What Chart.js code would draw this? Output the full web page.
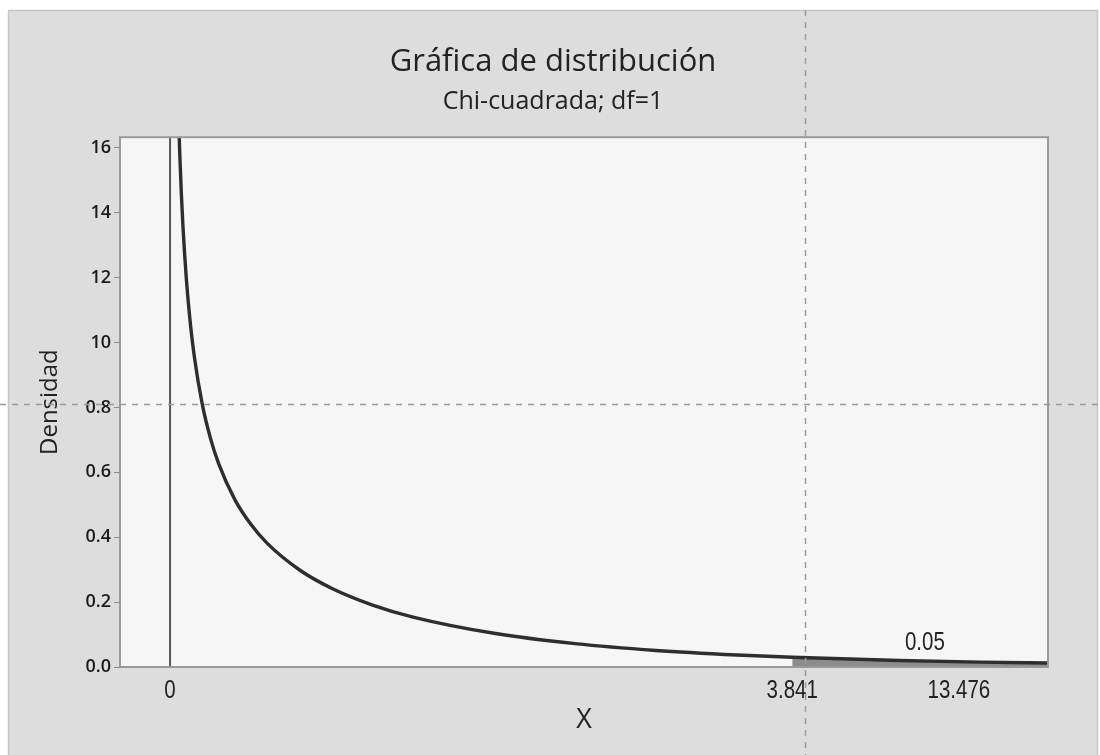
<!DOCTYPE html>
<html>
<head>
<meta charset="utf-8">
<script src="https://cdn.jsdelivr.net/npm/chart.js@4.4.0/dist/chart.umd.min.js"></script>
<style>
  html, body { margin: 0; padding: 0; background: #fff; }
  #wrap { width: 1100px; height: 755px; }
</style>
</head>
<body>
<div id="wrap"><canvas id="chart" width="1100" height="755"></canvas></div>
<script>
// === Data ===
const densX = [0.05, 0.06, 0.07, 0.08, 0.1, 0.12, 0.15, 0.2, 0.25, 0.3, 0.4, 0.5, 0.6, 0.8,
               1.0, 1.25, 1.5, 2.0, 2.5, 3.0, 3.5, 3.841, 4.5, 5.0, 5.45];
const densY = [1.740, 1.581, 1.456, 1.355, 1.200, 1.085, 0.956, 0.807, 0.704, 0.627, 0.516, 0.439, 0.381, 0.299,
               0.242, 0.191, 0.154, 0.104, 0.072, 0.051, 0.037, 0.030, 0.020, 0.015, 0.012];
const tailStart = 3.841;          // shaded right tail
const areaLabel = "0.05";
const areaLabelAt = [4.66, 0.075];

const xMin = -0.309, xMax = 5.42;
const yMin = 0, yMax = 1.633;
const xTickValues = [0, 3.841, 4.87];
const xTickLabels = ["0", "3.841", "13.476"];
const yTickValues = [0, 0.2, 0.4, 0.6, 0.8, 1.0, 1.2, 1.4, 1.6];
const yTickLabels = ["0.0", "0.2", "0.4", "0.6", "0.8", "10", "12", "14", "16"];

// dashed cursor cross-hair seen on the screenshot
const crossX = 3.92;
const crossY = 0.81;

const curvePts = densX.map((x, i) => ({ x, y: densY[i] }));
const tailPts = curvePts.filter(p => p.x >= tailStart);
const zeroLine = [{ x: 0, y: yMin }, { x: 0, y: yMax }];

const FONT = "'Open Sans', 'Noto Sans', sans-serif";
const NARROW = "25px 'Liberation Sans', Arial, sans-serif";

// narrow-looking text: plain font squeezed horizontally
function narrowText(ctx, text, x, y) {
  ctx.save();
  ctx.translate(x, y);
  ctx.scale(0.82, 1);
  ctx.fillText(text, 0, 0);
  ctx.restore();
}

const panelPlugin = {
  id: "panel",
  beforeDraw(chart) {
    const { ctx, chartArea: a, width, height } = chart;
    ctx.save();
    ctx.fillStyle = "#fff";
    ctx.fillRect(0, 0, width, height);
    ctx.fillStyle = "#dddddd";
    ctx.fillRect(8, 10, width - 10, height - 10);
    ctx.strokeStyle = "#c6c6c6";
    ctx.lineWidth = 1.5;
    ctx.strokeRect(8.5, 10.5, width - 11, height);
    ctx.fillStyle = "#f6f6f6";
    ctx.fillRect(a.left, a.top, a.width, a.height);
    ctx.restore();
  },
  afterDatasetsDraw(chart) {
    const { ctx, chartArea: a } = chart;
    const xs = chart.scales.x, ys = chart.scales.y;
    ctx.save();
    ctx.fillStyle = "#222";
    ctx.font = NARROW;
    ctx.textAlign = "center";
    ctx.textBaseline = "middle";
    narrowText(ctx, areaLabel, xs.getPixelForValue(areaLabelAt[0]), ys.getPixelForValue(areaLabelAt[1]));
    // x tick labels
    xTickValues.forEach((v, i) => {
      narrowText(ctx, xTickLabels[i], xs.getPixelForValue(v), a.bottom + 24);
    });
    ctx.restore();
  },
  afterDraw(chart) {
    const { ctx, chartArea: a, width, height } = chart;
    const xs = chart.scales.x, ys = chart.scales.y;
    ctx.save();
    // plot frame
    ctx.strokeStyle = "#999";
    ctx.lineWidth = 2;
    ctx.strokeRect(a.left, a.top, a.width, a.height);
    // cross-hair
    ctx.strokeStyle = "#9a9a9a";
    ctx.lineWidth = 1.5;
    ctx.setLineDash([6, 6]);
    const px = Math.round(xs.getPixelForValue(crossX)) + 0.5;
    const py = Math.round(ys.getPixelForValue(crossY)) + 0.5;
    ctx.beginPath();
    ctx.moveTo(px, 10); ctx.lineTo(px, height);
    ctx.moveTo(0, py); ctx.lineTo(width, py);
    ctx.stroke();
    ctx.restore();
  }
};

new Chart(document.getElementById("chart"), {
  type: "line",
  data: {
    datasets: [
      { data: curvePts, borderColor: "#2e2e2e", borderWidth: 3.4, pointRadius: 0, fill: false,
        cubicInterpolationMode: "monotone" },
      { data: tailPts, borderWidth: 0, borderColor: "rgba(0,0,0,0)", backgroundColor: "#8c8c8c",
        pointRadius: 0, fill: "origin", cubicInterpolationMode: "monotone" },
      { data: zeroLine, borderColor: "#555", borderWidth: 2, pointRadius: 0, fill: false }
    ]
  },
  options: {
    responsive: false,
    animation: false,
    events: [],
    layout: { padding: { left: 8, right: 2, top: 10, bottom: 0 } },
    plugins: {
      legend: { display: false },
      tooltip: { enabled: false },
      title: {
        display: true, text: "Gráfica de distribución", color: "#222",
        font: { family: FONT, size: 31, weight: "normal" },
        padding: { top: 34, bottom: 6 }
      },
      subtitle: {
        display: true, text: "Chi-cuadrada; df=1", color: "#222",
        font: { family: FONT, size: 25, weight: "normal" },
        padding: { top: 0, bottom: 20 }
      }
    },
    scales: {
      x: {
        type: "linear", min: xMin, max: xMax,
        afterBuildTicks: s => { s.ticks = xTickValues.map(v => ({ value: v })); },
        afterFit: s => { s.height = 88; },
        ticks: { display: false },
        grid: { display: false, drawTicks: false },
        border: { display: false },
        title: {
          display: true, text: "X", color: "#222",
          font: { family: FONT, size: 27 },
          padding: { top: 0, bottom: 18 }
        }
      },
      y: {
        min: yMin, max: yMax,
        afterBuildTicks: s => { s.ticks = yTickValues.map(v => ({ value: v })); },
        afterFit: s => { s.width = 112; },
        ticks: {
          autoSkip: false, padding: 3, color: "#1a1a1a",
          font: { family: FONT, size: 18, weight: "600" },
          callback: (v, i) => yTickLabels[i]
        },
        grid: { drawOnChartArea: false, drawTicks: true, tickLength: 6, color: "#888" },
        border: { display: false },
        title: {
          display: true, text: "Densidad", color: "#222",
          font: { family: FONT, size: 24 },
          padding: { top: 28, bottom: 0 }
        }
      },
      y2: {
        type: "linear", position: "right", display: true,
        afterFit: s => { s.width = 50; },
        ticks: { display: false },
        grid: { display: false },
        border: { display: false }
      }
    }
  },
  plugins: [panelPlugin]
});
</script>
</body>
</html>
